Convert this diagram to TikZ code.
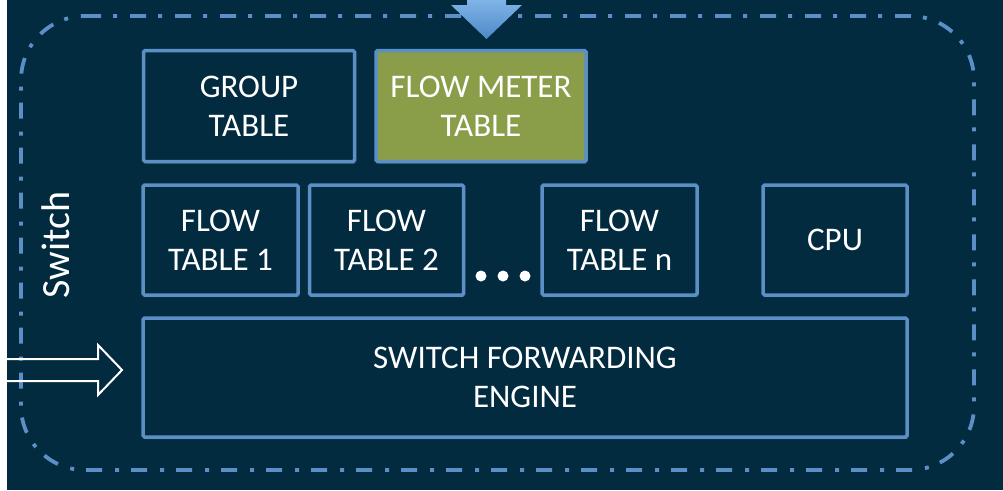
\documentclass[tikz,border=0pt]{standalone}
\usepackage{fontspec}
\setmainfont{Carlito}
\usetikzlibrary{shadows}

\definecolor{bg}{HTML}{022B3F}
\definecolor{edge}{HTML}{5B8FC6}
\definecolor{olive}{HTML}{8A9E4A}
\definecolor{arrowtop}{HTML}{80B4E6}
\definecolor{arrowbot}{HTML}{4C88C8}

\tikzset{
  unit/.style={draw=edge, line width=3.5pt, fill=bg, rounded corners=1.5pt,
    align=center, text=white, inner sep=0pt,
    font=\fontsize{33}{39}\selectfont,
    drop shadow={opacity=0.45, shadow xshift=1.5pt, shadow yshift=-2pt}},
  meterbox/.style={unit, fill=olive},
  boundary/.style={draw=edge, line width=3.8pt,
    dash pattern=on 16pt off 12pt on 4pt off 13pt},
  dotmark/.style={circle, fill=white, inner sep=0pt, minimum size=11pt},
  hollowarrow/.style={draw=white, line width=2pt, line join=miter},
}

\begin{document}
\begin{tikzpicture}[x=1pt, y=-1pt]
  % canvas
  \fill[white] (0,0) rectangle (1003,490);
  \fill[bg] (7,0) rectangle (1003,490);
  \useasboundingbox (0,0) rectangle (1003,490);

  % dash-dotted switch boundary with wide round corners (y axis points down)
  \def\rr{64}
  \draw[boundary] (21+\rr,16) -- (974-\rr,16)
    arc[start angle=-90, end angle=0, radius=\rr] -- (974,470-\rr)
    arc[start angle=0, end angle=90, radius=\rr] -- (21+\rr,470)
    arc[start angle=90, end angle=180, radius=\rr] -- (21,16+\rr)
    arc[start angle=180, end angle=270, radius=\rr] -- cycle;

  % label of the switch
  \node[rotate=90, text=white, font=\fontsize{40}{48}\selectfont] (sw) at (56,245) {Switch};

  % tables
  \node[unit, minimum width=211pt, minimum height=111pt] (group) at (249,106) {GROUP\\TABLE};
  \node[meterbox, minimum width=210pt, minimum height=111pt] (meter) at (481,106) {FLOW METER\\TABLE};

  \node[unit, minimum width=155pt, minimum height=110pt] (ft1) at (220.5,240) {FLOW\\TABLE 1};
  \node[unit, minimum width=154pt, minimum height=110pt] (ft2) at (386.5,240) {FLOW\\TABLE 2};
  \node[unit, minimum width=155pt, minimum height=110pt] (ftn) at (619.5,240) {FLOW\\TABLE n};
  \node[unit, minimum width=144pt, minimum height=110pt] (cpu) at (835,240) {CPU};

  \node[unit, minimum width=764pt, minimum height=119pt] (engine) at (525,377.5) {SWITCH FORWARDING\\ENGINE};

  % ellipsis between the flow tables
  \node[dotmark] (d1) at (481,276) {};
  \node[dotmark] (d2) at (503,276) {};
  \node[dotmark] (d3) at (525,276) {};

  % incoming block arrow from above
  \coordinate (topin) at (486.5,39);
  \shade[top color=arrowtop, bottom color=arrowbot]
    (467,0) -- (506,0) -- (506,5) -- (522,5) -- (topin) -- (451,5) -- (467,5) -- cycle;

  % incoming hollow arrow into the forwarding engine
  \coordinate (leftin) at (122,370);
  \draw[hollowarrow]
    (0,359) -- (98,359) -- (98,345) -- (leftin) -- (98,395) -- (98,381) -- (0,381);
  \fill[white] (0,340) rectangle (7,400);
\end{tikzpicture}
\end{document}
